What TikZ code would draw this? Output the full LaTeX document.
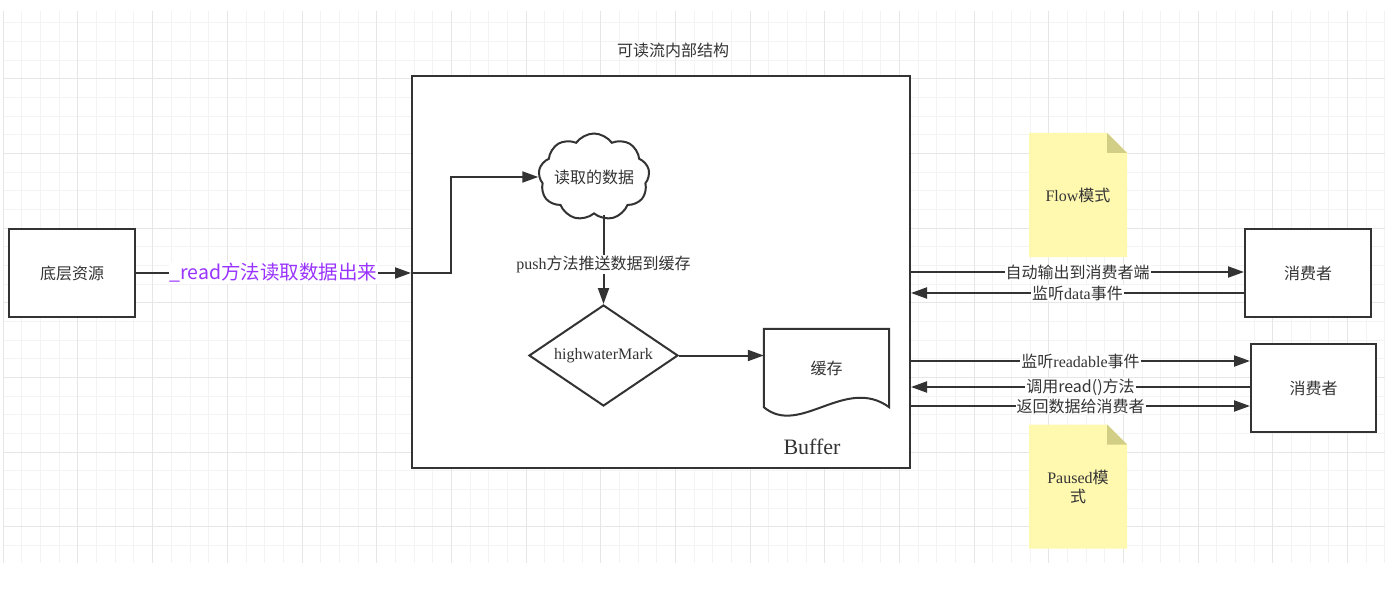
\documentclass[tikz,border=0pt]{standalone}
\usepackage{fontspec}
\setmainfont{Liberation Serif}
\newfontfamily\cjk{Noto Sans CJK SC}
\usepackage{tikz}
\usetikzlibrary{positioning, arrows.meta, shapes.geometric, shapes.symbols, calc}

\definecolor{linec}{HTML}{333333}
\definecolor{gridminor}{HTML}{F3F3F3}
\definecolor{gridmajor}{HTML}{E6E6E6}
\definecolor{memofill}{HTML}{FFF9B0}
\definecolor{foldfill}{HTML}{D3CE86}
\definecolor{readpurple}{HTML}{9933FF}

\begin{document}
\begin{tikzpicture}[
  x=1pt, y=-1pt,
  text=linec,
  font=\fontsize{16pt}{19pt}\selectfont,
  box/.style={draw=linec, line width=2pt, fill=white, minimum width=126pt,
    minimum height=88pt, font=\cjk\fontsize{16pt}{19pt}\selectfont},
  arrow/.style={-{Triangle[length=16pt,width=11pt]}, line width=2pt, draw=linec},
  lbl/.style={fill=white, inner sep=1pt},
  memo/.style={minimum width=98pt, minimum height=124pt, align=center,
    path picture={
      \fill[memofill] (path picture bounding box.north west)
        -- ([xshift=-20pt]path picture bounding box.north east)
        -- ([yshift=-20pt]path picture bounding box.north east)
        -- (path picture bounding box.south east)
        -- (path picture bounding box.south west) -- cycle;
      \fill[foldfill] ([xshift=-20pt]path picture bounding box.north east)
        -- ([xshift=-20pt,yshift=-20pt]path picture bounding box.north east)
        -- ([yshift=-20pt]path picture bounding box.north east) -- cycle;
    }},
]
  % background and grid
  \fill[white] (0,0) rectangle (1391,596);
  \useasboundingbox (0,0) rectangle (1391,596);
  \foreach \i in {0,...,74}
    \draw[gridminor, line width=1pt] ({3.3+\i*18.67},10.7) -- ({3.3+\i*18.67},563);
  \foreach \j in {1,...,29}
    \draw[gridminor, line width=1pt] (3.3,{4+\j*18.67}) -- (1385,{4+\j*18.67});
  \foreach \i in {0,4,...,72}
    \draw[gridmajor, line width=1pt] ({3.3+\i*18.67},10.7) -- ({3.3+\i*18.67},563);
  \foreach \j in {4,8,...,28}
    \draw[gridmajor, line width=1pt] (3.3,{4+\j*18.67}) -- (1385,{4+\j*18.67});

  % readable stream
  \node[draw=linec, line width=2pt, fill=white, minimum width=498pt,
    minimum height=392pt] (stream) at (661,272) {};
  \node[font=\cjk\fontsize{16pt}{19pt}\selectfont] (title) at (673,50) {可读流内部结构};

  \node[box] (src) at (72,273) {底层资源};

  \node[draw=linec, line width=2pt, fill=white, shape=cloud, cloud puffs=9,
    cloud puff arc=110, aspect=1.3, minimum width=111pt, minimum height=87pt,
    inner sep=0pt, font=\cjk\fontsize{16pt}{19pt}\selectfont] (data) at (594,177)
    {\makebox[40pt][c]{读取的数据}};
  \node[draw=linec, line width=2pt, fill=white, shape=diamond, aspect=1.5,
    inner sep=0pt, minimum width=149pt, minimum height=101pt] (mark) at (603.5,355.5) {highwaterMark};
  \node[minimum width=125pt, minimum height=78pt,
    font=\cjk\fontsize{16pt}{19pt}\selectfont] (cache) at (826.5,368) {缓存};
  \draw[line width=2pt, draw=linec, fill=white] (cache.south west) -- (cache.north west)
    -- (cache.north east) -- (cache.south east)
    .. controls +(-44,-32) and +(36,30) .. (cache.south west) -- cycle;
  \node at (cache) {\cjk 缓存};
  \node[font=\fontsize{22pt}{26pt}\selectfont] (buffer) at (812,447) {Buffer};

  \coordinate (entry) at (src.east -| stream.west);
  \draw[arrow] (src.east) -- node[lbl, text=readpurple,
    font=\cjk\fontsize{19.5pt}{23pt}\selectfont] {\_read方法读取数据出来} (entry);
  \draw[arrow] (entry) -- ++(40,0) |- (data.west);
  \draw[arrow] (mark.north |- data.south) -- node[lbl, pos=0.56] {push{\cjk 方法推送数据到缓存}} (mark.north);
  \draw[arrow] (mark.east) -- (cache.west |- mark.east);

  % consumers
  \node[box] (flowc) at (1308,273) {消费者};
  \node[box, minimum width=125pt] (pausec) at (1313.5,388) {消费者};

  \node[memo] (flow) at (1078,195) {Flow{\cjk 模式}};
  \node[memo] (paused) at (1078,486.5) {Paused{\cjk 模}\\{\cjk 式}};

  \coordinate (f1) at ([yshift=1pt]flowc.west);
  \coordinate (f2) at ([yshift=-20pt]flowc.west);
  \coordinate (p1) at ([yshift=27pt]pausec.west);
  \coordinate (p2) at ([yshift=1pt]pausec.west);
  \coordinate (p3) at ([yshift=-18pt]pausec.west);
  \draw[arrow] (f1 -| stream.east) -- node[lbl] {\cjk 自动输出到消费者端} (f1);
  \draw[arrow] (f2) -- node[lbl] {{\cjk 监听}data{\cjk 事件}} (f2 -| stream.east);
  \draw[arrow] (p1 -| stream.east) -- node[lbl] {{\cjk 监听}readable{\cjk 事件}} (p1);
  \draw[arrow] (p2) -- node[lbl] {\cjk 调用read()方法} (p2 -| stream.east);
  \draw[arrow] (p3 -| stream.east) -- node[lbl] {\cjk 返回数据给消费者} (p3);
\end{tikzpicture}
\end{document}
